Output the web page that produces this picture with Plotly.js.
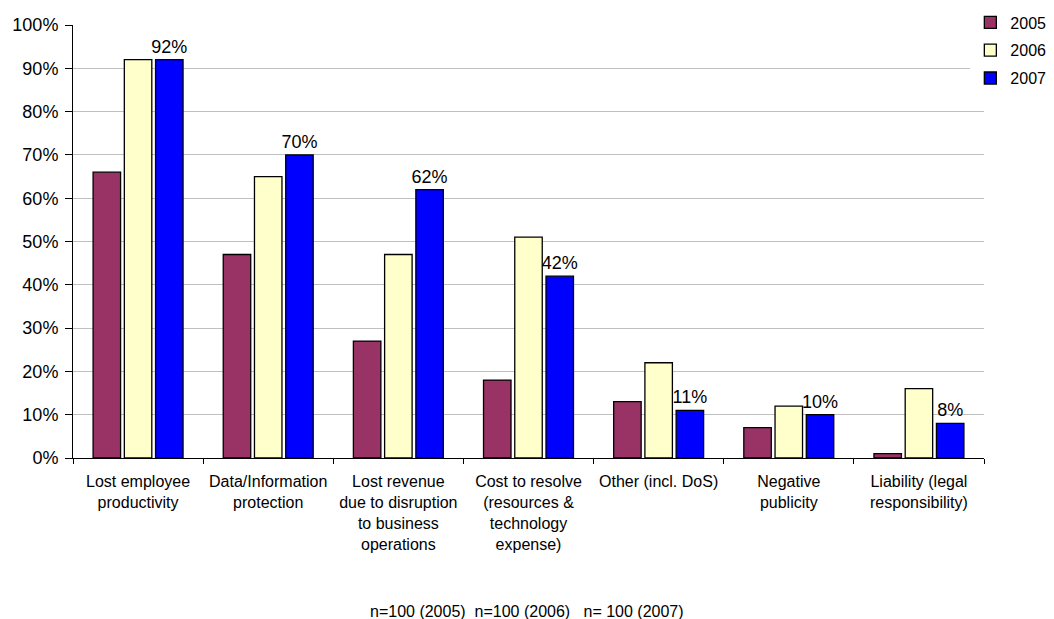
<!DOCTYPE html>
<html>
<head>
<meta charset="utf-8">
<script src="https://cdn.plot.ly/plotly-3.0.1.min.js"></script>
<style>html,body{margin:0;padding:0;background:#fff;}#chart{width:1054px;height:619px;}</style>
</head>
<body>
<div id="chart"></div>
<script>
const categories = [
  "Lost employee<br>productivity",
  "Data/Information<br>protection",
  "Lost revenue<br>due to disruption<br>to business<br>operations",
  "Cost to resolve<br>(resources &<br>technology<br>expense)",
  "Other (incl. DoS)",
  "Negative<br>publicity",
  "Liability (legal<br>responsibility)"
];
const values2005 = [66, 47, 27, 18, 13, 7, 1];
const values2006 = [92, 65, 47, 51, 22, 12, 16];
const values2007 = [92, 70, 62, 42, 11, 10, 8];
const yTickVals = [0,10,20,30,40,50,60,70,80,90,100];
const yTickText = yTickVals.map(v => v + "%");
const footnote = "n=100 (2005)  n=100 (2006)   n= 100 (2007)";

const FONT = "Arial, 'Liberation Sans', sans-serif";
const line = {color: "#000", width: 1.3};
const traces = [
  {type: "bar", name: "2005", legendgroup: "a", x: categories, y: values2005, marker: {color: "#993366", line: line}},
  {type: "bar", name: "2006", legendgroup: "b", x: categories, y: values2006, marker: {color: "#FFFFCC", line: line}},
  {type: "bar", name: "2007", legendgroup: "c", x: categories, y: values2007, marker: {color: "#0000FF", line: line},
   text: values2007.map(v => v + "%"), textposition: "outside", cliponaxis: false, constraintext: "none",
   outsidetextfont: {family: FONT, size: 18, color: "#000"}}
];

const layout = {
  width: 1054, height: 619,
  margin: {l: 73, r: 70, t: 25, b: 161, autoexpand: false},
  paper_bgcolor: "#fff", plot_bgcolor: "#fff",
  font: {family: FONT, color: "#000"},
  barmode: "group", bargap: 0.28, bargroupgap: 0.12,
  showlegend: true,
  legend: {x: 0.985, y: 1.045, xanchor: "left", yanchor: "top", font: {size: 16},
           traceorder: "grouped", tracegroupgap: 4},
  xaxis: {
    type: "category", showgrid: false, showline: true, linecolor: "#000", linewidth: 1,
    ticks: "outside", tickson: "boundaries", ticklen: 5, tickcolor: "#000", ticklabelstandoff: 9,
    tickfont: {size: 16}, automargin: false
  },
  yaxis: {
    range: [0, 100], tickvals: yTickVals, ticktext: yTickText,
    showgrid: true, gridcolor: "#c0c0c0", gridwidth: 1,
    showline: true, linecolor: "#000", linewidth: 1,
    ticks: "outside", ticklen: 7, tickcolor: "#000", ticklabelstandoff: 3,
    tickfont: {size: 18}, zeroline: false, automargin: false
  },
  annotations: [{
    text: footnote, xref: "paper", yref: "paper", x: 0.498, y: -0.355,
    xanchor: "center", yanchor: "middle", showarrow: false, font: {size: 16}
  }]
};

Plotly.newPlot("chart", traces, layout, {displayModeBar: false, staticPlot: true});
</script>
</body>
</html>
